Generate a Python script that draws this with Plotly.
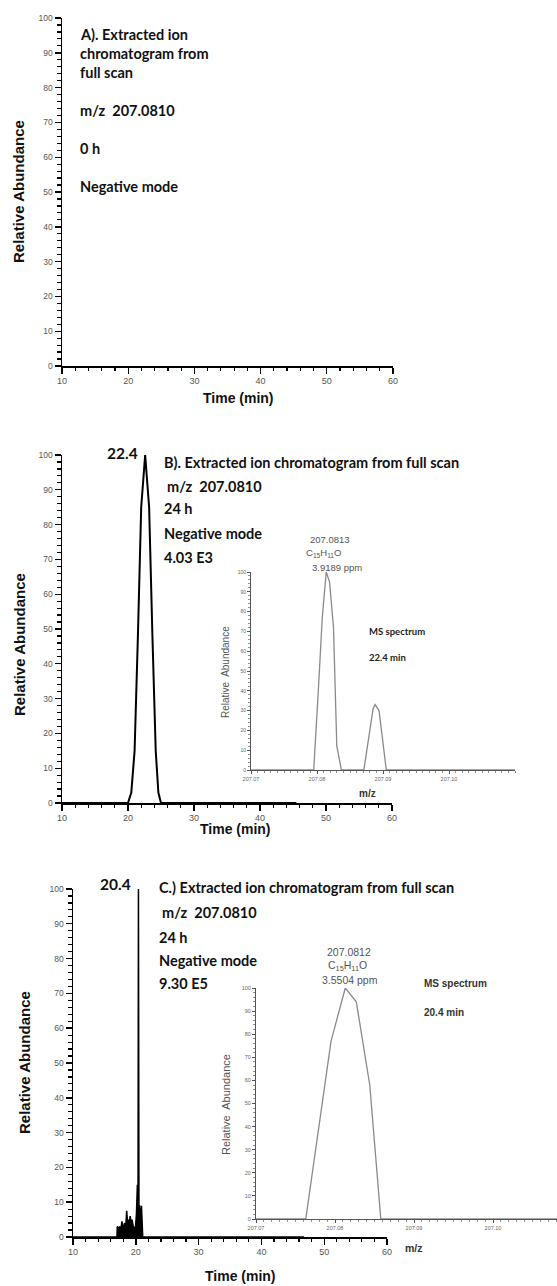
import plotly.graph_objects as go

# ---------------- data ----------------
# Panel A: no signal (empty chromatogram)
a_time = []
a_abund = []

# Panel B: extracted ion chromatogram (24 h), main peak ~22.4 min
b_time = [10, 20.0, 20.5, 21.0, 21.5, 22.0, 22.6, 23.2, 23.7, 24.2, 24.6, 25.0, 45.5]
b_abund = [0, 0, 3, 15, 48, 85, 100, 85, 48, 15, 3, 0, 0]

# Panel B inset: MS spectrum at 22.4 min
bi_mz = [207.07, 207.0795, 207.0802, 207.0808, 207.0814, 207.0819, 207.0825, 207.0830,
         207.0837, 207.0871, 207.0885, 207.0888, 207.0894, 207.0898, 207.0905, 207.11]
bi_abund = [0, 0, 40, 77, 100, 95, 72, 12, 0, 0, 31, 33, 30, 18, 0, 0]

# Panel C: extracted ion chromatogram, spike at 20.4 min
c_time = [10, 17.0, 17.05, 17.3, 17.5, 17.6, 17.8, 17.9, 18.0, 18.2, 18.4, 18.55, 18.7,
          18.85, 19.0, 19.1, 19.25, 19.4, 19.6, 19.8, 19.95, 20.1, 20.25, 20.35, 20.42,
          20.5, 20.6, 20.75, 20.9, 21.0, 21.05, 21.1, 46.8]
c_abund = [0, 0, 3, 2.5, 3, 2, 4.5, 3, 2, 4, 3, 7.5, 4, 5, 4.5, 6, 4, 5, 3, 2.5, 3,
           6.5, 15, 8, 100, 9, 9, 4.5, 9, 4.5, 0, 0, 0]

# Panel C inset: MS spectrum at 20.4 min
ci_mz = [207.07, 207.0763, 207.0795, 207.0813, 207.0827, 207.0844, 207.0858, 207.1081]
ci_abund = [0, 0, 77, 100, 94, 58, 0, 0]

time_ticks = [10, 20, 30, 40, 50, 60]
abund_ticks = [0, 10, 20, 30, 40, 50, 60, 70, 80, 90, 100]
mz_ticks = [207.07, 207.08, 207.09, 207.10]
mz_tick_labels = ["207.07", "207.08", "207.09", "207.10"]

# ---------------- layout helpers ----------------
W, H = 557, 1286


def px(x):
    return x / W


def py(y):
    return 1 - y / H


SANS = "Liberation Sans, Arial"
CAL = "Lato"


def main_x(x0, x1, anchor):
    return dict(domain=[px(x0), px(x1)], range=[10, 60], anchor=anchor,
                automargin=False,
                showline=True, linecolor="black", linewidth=1.5,
                ticks="outside", ticklen=6, tickwidth=1.4, tickcolor="black",
                tickvals=time_ticks,
                minor=dict(dtick=2, tick0=10, ticklen=3.5, tickwidth=1.2,
                           tickcolor="black", ticks="outside"),
                tickfont=dict(family=SANS, size=9, color="#555"),
                showgrid=False, zeroline=False, fixedrange=True)


def main_y(ytop, ybot, anchor):
    return dict(domain=[py(ybot), py(ytop)], range=[0, 100], anchor=anchor,
                automargin=False,
                showline=True, linecolor="black", linewidth=1.5,
                ticks="outside", ticklen=6, tickwidth=1.4, tickcolor="black",
                tickvals=abund_ticks,
                minor=dict(dtick=2, tick0=0, ticklen=3.5, tickwidth=1.2,
                           tickcolor="black", ticks="outside"),
                tickfont=dict(family=SANS, size=8.5, color="#555"),
                showgrid=False, zeroline=False, fixedrange=True)


def inset_x(x0, x1, xmax, anchor):
    return dict(domain=[px(x0), min(px(x1), 1.0)], range=[207.07, xmax], anchor=anchor,
                automargin=False,
                showline=True, linecolor="#555", linewidth=1,
                ticks="outside", ticklen=3, tickwidth=1, tickcolor="#555",
                tickvals=mz_ticks, ticktext=mz_tick_labels,
                minor=dict(dtick=0.001, tick0=207.07, ticklen=2, tickwidth=0.8,
                           tickcolor="#777", ticks="outside"),
                tickfont=dict(family=SANS, size=5.5, color="#666"),
                showgrid=False, zeroline=False, fixedrange=True)


def inset_y(ytop, ybot, anchor, fs):
    return dict(domain=[py(ybot), py(ytop)], range=[0, 100], anchor=anchor,
                automargin=False,
                showline=True, linecolor="#555", linewidth=1,
                ticks="outside", ticklen=3, tickwidth=1, tickcolor="#555",
                tickvals=abund_ticks,
                minor=dict(dtick=2, tick0=0, ticklen=2, tickwidth=0.8,
                           tickcolor="#777", ticks="outside"),
                tickfont=dict(family=SANS, size=fs, color="#666"),
                showgrid=False, zeroline=False, fixedrange=True)


fig = go.Figure()

# Panel A (empty)
fig.add_trace(go.Scatter(x=a_time, y=a_abund, mode="lines", xaxis="x", yaxis="y",
                         line=dict(color="black", width=1.5), showlegend=False))
# Panel B
fig.add_trace(go.Scatter(x=b_time, y=b_abund, mode="lines", xaxis="x2", yaxis="y2",
                         line=dict(color="black", width=2), showlegend=False))
# Panel B inset
fig.add_trace(go.Scatter(x=bi_mz, y=bi_abund, mode="lines", xaxis="x3", yaxis="y3",
                         line=dict(color="#8a8a8a", width=1.3), showlegend=False))
# Panel C
fig.add_trace(go.Scatter(x=c_time, y=c_abund, mode="lines", xaxis="x4", yaxis="y4",
                         line=dict(color="black", width=1.5), fill="tozeroy",
                         fillcolor="black", showlegend=False))
# Panel C inset
fig.add_trace(go.Scatter(x=ci_mz, y=ci_abund, mode="lines", xaxis="x5", yaxis="y5",
                         line=dict(color="#8a8a8a", width=1.3), showlegend=False))

ann = []


def txt(x, y, s, size=14.5, family=CAL, weight="bold", color="#111",
        xanchor="left", angle=0):
    ann.append(dict(x=px(x), y=py(y), xref="paper", yref="paper", text=s,
                    showarrow=False, xanchor=xanchor, yanchor="middle",
                    textangle=angle,
                    font=dict(family=family, size=size, color=color, weight=weight)))


# Panel A texts
txt(78, 35, "A). Extracted ion")
txt(78, 53, "chromatogram from")
txt(78, 72, "full scan")
txt(78, 110, "m/z  207.0810")
txt(78, 148, "0 h")
txt(78, 186, "Negative mode")
txt(18, 192, "Relative Abundance", size=15, family=SANS, xanchor="center", angle=-90)
txt(238, 398, "Time (min)", size=14, family=SANS, xanchor="center")

# Panel B texts
txt(140, 453, "22.4", size=15.5, xanchor="right")
txt(162, 462, "B). Extracted ion chromatogram from full scan")
txt(165, 486, "m/z  207.0810")
txt(162, 509, "24 h")
txt(162, 533, "Negative mode")
txt(162, 557, "4.03 E3")
txt(19, 645, "Relative Abundance", size=15, family=SANS, xanchor="center", angle=-90)
txt(235, 829, "Time (min)", size=14, family=SANS, xanchor="center")
# inset B texts
txt(330, 539, "207.0813", size=9.5, family=SANS, weight="normal", color="#555", xanchor="center")
txt(323, 553, "C<sub>15</sub>H<sub>11</sub>O", size=9.5, family=SANS, weight="normal",
    color="#555", xanchor="center")
txt(337, 567, "3.9189 ppm", size=9.5, family=SANS, weight="normal", color="#555", xanchor="center")
txt(367, 632, "MS spectrum", size=9.5, color="#222")
txt(367, 657, "22.4 min", size=9.5, color="#222")
txt(225, 672, "Relative  Abundance", size=10, family=SANS, weight="normal",
    color="#555", xanchor="center", angle=-90)
txt(367, 793, "m/z", size=10, family=SANS, color="#333", xanchor="center")

# Panel C texts
txt(115, 884, "20.4", size=15.5, xanchor="center")
txt(157, 887, "C.) Extracted ion chromatogram from full scan")
txt(160, 912, "m/z  207.0810")
txt(157, 937, "24 h")
txt(157, 960, "Negative mode")
txt(157, 983, "9.30 E5")
txt(24, 1063, "Relative Abundance", size=15, family=SANS, xanchor="center", angle=-90)
txt(240, 1276, "Time (min)", size=14, family=SANS, xanchor="center")
# inset C texts
txt(349, 952, "207.0812", size=10.5, family=SANS, weight="normal", color="#555", xanchor="center")
txt(347, 966, "C<sub>15</sub>H<sub>11</sub>O", size=10.5, family=SANS, weight="normal",
    color="#555", xanchor="center")
txt(350, 980, "3.5504 ppm", size=10.5, family=SANS, weight="normal", color="#555", xanchor="center")
txt(422, 983, "MS spectrum", size=10, family=SANS, color="#333")
txt(422, 1012, "20.4 min", size=10, family=SANS, color="#333")
txt(226, 1105, "Relative  Abundance", size=11, family=SANS, weight="normal",
    color="#555", xanchor="center", angle=-90)
txt(403, 1248, "m/z", size=10.5, family=SANS, color="#333")

fig.update_layout(
    width=W, height=H, autosize=False,
    margin=dict(l=0, r=0, t=0, b=0, pad=0),
    paper_bgcolor="white", plot_bgcolor="rgba(0,0,0,0)",
    showlegend=False, hovermode=False,
    xaxis=main_x(62, 393, "y"),
    yaxis=main_y(18, 366, "x"),
    xaxis2=main_x(62, 392, "y2"),
    yaxis2=main_y(455, 803, "x2"),
    xaxis3=inset_x(251, 515, 207.11, "y3"),
    yaxis3=inset_y(572, 770, "x3", 5),
    xaxis4=main_x(73, 387, "y4"),
    yaxis4=main_y(889, 1237, "x4"),
    xaxis5=inset_x(256, 557, 207.1081, "y5"),
    yaxis5=inset_y(988, 1219, "x5", 5.5),
    annotations=ann,
)

fig.write_html(
    "out.html",
    config={"displayModeBar": False, "staticPlot": True},
    post_script="document.body.style.margin='0';document.body.style.overflow='hidden';",
)
